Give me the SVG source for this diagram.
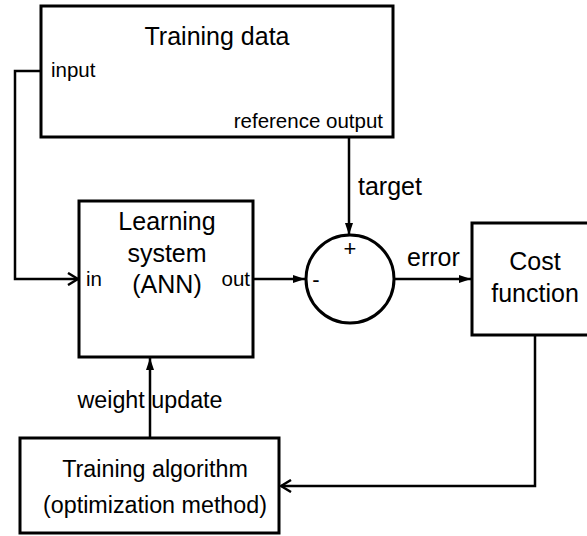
<svg xmlns="http://www.w3.org/2000/svg" width="587" height="536" viewBox="0 0 587 536">
<defs>
<style>
.box{fill:#fff;stroke:#000;stroke-width:3}
.ln{fill:none;stroke:#000;stroke-width:2.5}
.t{font-family:"Liberation Sans",Arial,sans-serif;font-size:25px;fill:#000}
.b{font-family:"Liberation Sans",Arial,sans-serif;font-size:23.3px;fill:#000}
.s{font-family:"Liberation Sans",Arial,sans-serif;font-size:20.5px;fill:#000}
.m{text-anchor:middle}
.e{text-anchor:end}
</style>
<marker id="fill" viewBox="0 0 12 10" refX="12" refY="5" markerWidth="12" markerHeight="10" markerUnits="userSpaceOnUse" orient="auto">
<path d="M0,1 L12,5 L0,9 Z" fill="#000"/>
</marker>
<marker id="open" viewBox="0 0 12 14" refX="11" refY="7" markerWidth="12" markerHeight="14" markerUnits="userSpaceOnUse" orient="auto">
<path d="M1,1 L11,7 L1,13" fill="none" stroke="#000" stroke-width="2.5"/>
</marker>
</defs>
<g id="training-data">
<rect class="box" x="41" y="6" width="352" height="131"/>
<text class="t m" x="217" y="45">Training data</text>
<text class="s" x="51" y="77">input</text>
<text class="s e" x="383" y="128">reference output</text>
</g>
<g id="learning-system">
<rect class="box" x="79" y="201" width="174" height="156"/>
<text class="t m" x="167" y="230">Learning</text>
<text class="t m" x="167" y="262">system</text>
<text class="t m" x="167" y="293">(ANN)</text>
<text class="s" x="86" y="286">in</text>
<text class="s e" x="250" y="286">out</text>
</g>
<g id="summing-junction">
<circle cx="350" cy="279" r="44" fill="#fff" stroke="#000" stroke-width="3"/>
<text class="s m" x="350" y="256" style="font-size:22px">+</text>
<text class="s m" x="316" y="287" style="font-size:22px">-</text>
</g>
<g id="cost-function">
<rect class="box" x="472" y="223" width="130" height="112"/>
<text class="t m" x="535" y="270">Cost</text>
<text class="t m" x="535" y="302">function</text>
</g>
<g id="training-algorithm">
<rect class="box" x="20" y="438" width="259" height="95"/>
<text class="b m" x="155" y="477">Training algorithm</text>
<text class="b m" x="155" y="513">(optimization method)</text>
</g>
<g id="connectors">
<polyline class="ln" points="41,71 15,71 15,279 78,279" marker-end="url(#open)"/>
<line class="ln" x1="253" y1="279" x2="305" y2="279" marker-end="url(#fill)"/>
<line class="ln" x1="349" y1="137" x2="349" y2="235" marker-end="url(#fill)"/>
<text class="t" x="358" y="195">target</text>
<line class="ln" x1="394" y1="279" x2="471" y2="279" marker-end="url(#fill)"/>
<text class="t" x="407" y="266">error</text>
<polyline class="ln" points="535,335 535,486 281,486" marker-end="url(#open)"/>
<text class="b m" x="150" y="408">weight update</text>
<line class="ln" x1="150" y1="438" x2="150" y2="358" marker-end="url(#fill)"/>
</g>
</svg>
